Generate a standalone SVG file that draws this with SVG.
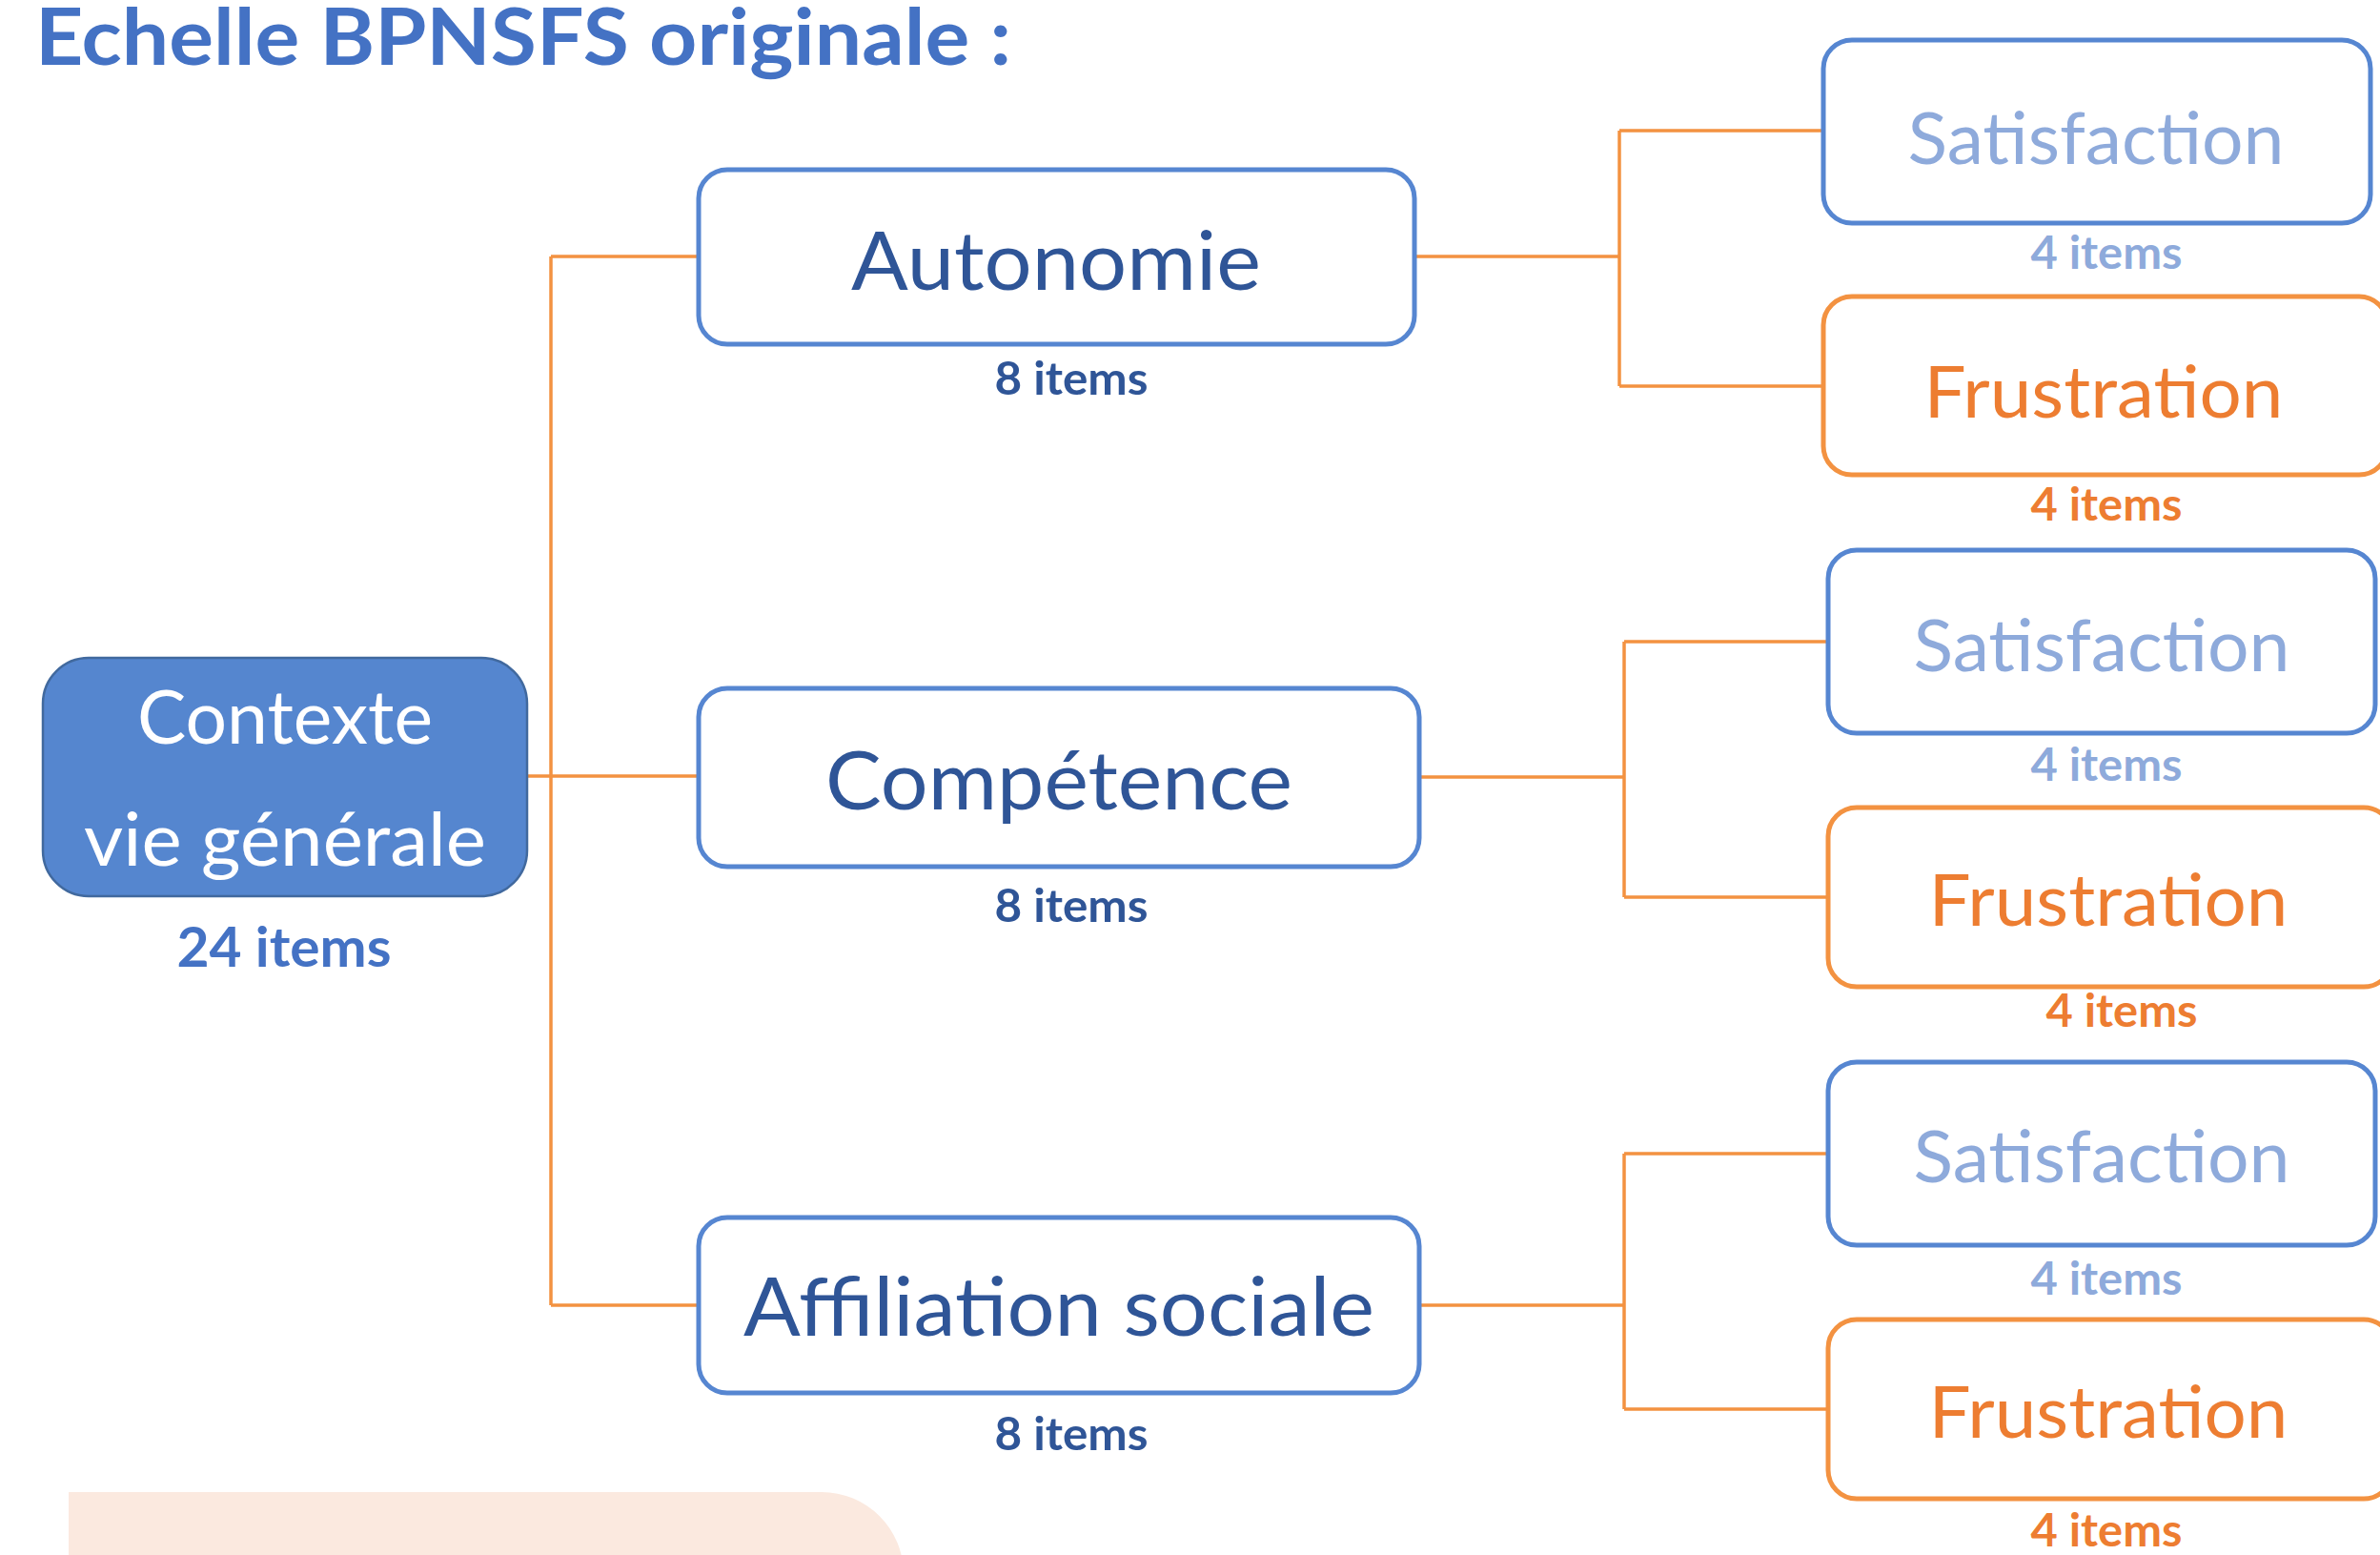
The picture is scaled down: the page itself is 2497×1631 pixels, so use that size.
<svg xmlns="http://www.w3.org/2000/svg" width="2497" height="1631" viewBox="0 0 2497 1631">
<style>
text{font-family:Lato,"Open Sans","Liberation Sans",sans-serif;text-anchor:middle}
.box{fill:#fff;stroke:#5686D1;stroke-width:5}
.obox{fill:#fff;stroke:#F39241;stroke-width:5}
.conn{fill:none;stroke:#F39241;stroke-width:3.5}
.big{font-size:86px;fill:#2F5597}
.sat{font-size:76px;fill:#8EAADB}
.fru{font-size:76px;fill:#ED7D31}
.cnt{font-size:47px;font-weight:bold}
</style>
<rect width="2497" height="1631" fill="#fff"/>
<text x="37" y="68" style="text-anchor:start;font-size:82px;font-weight:bold;fill:#4472C4" textLength="1024" lengthAdjust="spacingAndGlyphs">Echelle BPNSFS originale :</text>
<path d="M72,1565 H862 A86,86 0 0 1 948,1651 V1640 H72 Z" fill="#FBE9DF"/>
<g id="connectors">
<path class="conn" d="M553,814 H733 M578,269 V1369 M578,269 H733 M578,1369 H733"/>
<path class="conn" d="M1484,269 H1699 M1699,137 V405 M1699,137 H1913 M1699,405 H1913"/>
<path class="conn" d="M1489,815 H1704 M1704,673 V941 M1704,673 H1918 M1704,941 H1918"/>
<path class="conn" d="M1489,1369 H1704 M1704,1210 V1478 M1704,1210 H1918 M1704,1478 H1918"/>
</g>
<g id="contexte">
<rect x="45" y="690" width="508" height="250" rx="48" fill="#5586CF" stroke="#41699E" stroke-width="2.5"/>
<text x="299" y="780" style="font-size:77px;fill:#fff" textLength="310" lengthAdjust="spacingAndGlyphs">Contexte</text>
<text x="299" y="908" style="font-size:77px;fill:#fff" textLength="422" lengthAdjust="spacingAndGlyphs">vie générale</text>
<text class="cnt" x="298" y="1014" style="font-size:57px;fill:#4472C4" textLength="225" lengthAdjust="spacingAndGlyphs">24 items</text>
</g>
<g id="autonomie">
<rect class="box" x="733" y="178" width="751" height="183" rx="30"/>
<text class="big" x="1108" y="304" textLength="430" lengthAdjust="spacingAndGlyphs">Autonomie</text>
<text class="cnt" x="1124" y="414" fill="#2F5597" textLength="161" lengthAdjust="spacingAndGlyphs">8 items</text>
</g>
<g id="competence">
<rect class="box" x="733" y="722" width="756" height="187" rx="30"/>
<text class="big" x="1111" y="849" textLength="490" lengthAdjust="spacingAndGlyphs">Compétence</text>
<text class="cnt" x="1124" y="967" fill="#2F5597" textLength="161" lengthAdjust="spacingAndGlyphs">8 items</text>
</g>
<g id="affiliation">
<rect class="box" x="733" y="1277" width="756" height="184" rx="30"/>
<text class="big" x="1111" y="1401" textLength="662" lengthAdjust="spacingAndGlyphs">Affiliation sociale</text>
<text class="cnt" x="1124" y="1521" fill="#2F5597" textLength="161" lengthAdjust="spacingAndGlyphs">8 items</text>
</g>
<g id="sat1">
<rect class="box" x="1913" y="42" width="574" height="192" rx="30"/>
<text class="sat" x="2199" y="172" textLength="395" lengthAdjust="spacingAndGlyphs">Satisfaction</text>
<text class="cnt" x="2210" y="282" fill="#8EAADB" textLength="159" lengthAdjust="spacingAndGlyphs">4 items</text>
</g>
<g id="fru1">
<rect class="obox" x="1913" y="311" width="592" height="187" rx="30"/>
<text class="fru" x="2207" y="438" textLength="377" lengthAdjust="spacingAndGlyphs">Frustration</text>
<text class="cnt" x="2210" y="546" fill="#ED7D31" textLength="159" lengthAdjust="spacingAndGlyphs">4 items</text>
</g>
<g id="sat2">
<rect class="box" x="1918" y="577" width="574" height="192" rx="30"/>
<text class="sat" x="2205" y="704" textLength="395" lengthAdjust="spacingAndGlyphs">Satisfaction</text>
<text class="cnt" x="2210" y="819" fill="#8EAADB" textLength="159" lengthAdjust="spacingAndGlyphs">4 items</text>
</g>
<g id="fru2">
<rect class="obox" x="1918" y="847" width="592" height="188" rx="30"/>
<text class="fru" x="2212" y="971" textLength="377" lengthAdjust="spacingAndGlyphs">Frustration</text>
<text class="cnt" x="2226" y="1077" fill="#ED7D31" textLength="159" lengthAdjust="spacingAndGlyphs">4 items</text>
</g>
<g id="sat3">
<rect class="box" x="1918" y="1114" width="574" height="192" rx="30"/>
<text class="sat" x="2205" y="1240" textLength="395" lengthAdjust="spacingAndGlyphs">Satisfaction</text>
<text class="cnt" x="2210" y="1358" fill="#8EAADB" textLength="159" lengthAdjust="spacingAndGlyphs">4 items</text>
</g>
<g id="fru3">
<rect class="obox" x="1918" y="1384" width="592" height="188" rx="30"/>
<text class="fru" x="2212" y="1508" textLength="377" lengthAdjust="spacingAndGlyphs">Frustration</text>
<text class="cnt" x="2210" y="1622" fill="#ED7D31" textLength="159" lengthAdjust="spacingAndGlyphs">4 items</text>
</g>
</svg>
